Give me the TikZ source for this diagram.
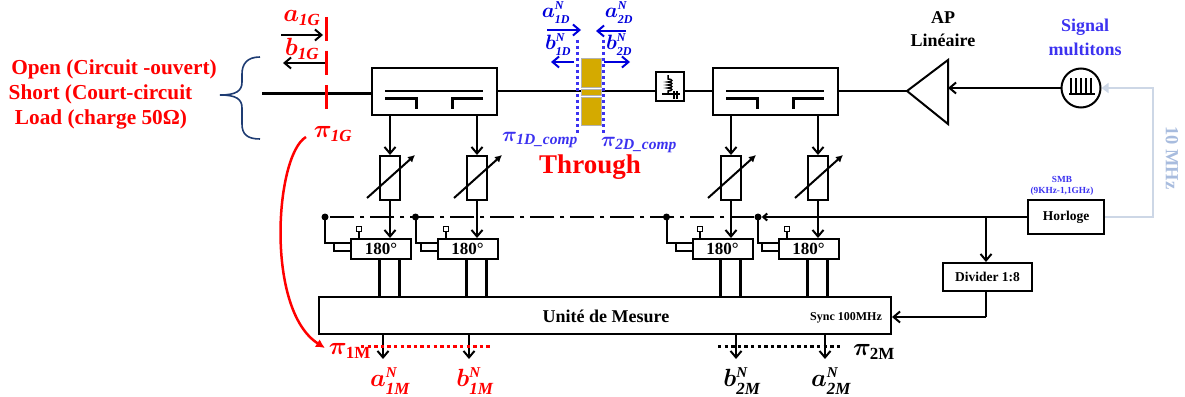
\documentclass[tikz,border=0pt]{standalone}
\usepackage{amsmath,amssymb}
\usepackage{xcolor}
\usepackage{fontspec}
\setmainfont{Liberation Serif}
\usetikzlibrary{arrows.meta}

\definecolor{portred}{RGB}{255,0,0}
\definecolor{sigblue}{RGB}{60,50,240}
\definecolor{waveblue}{RGB}{0,0,220}
\definecolor{clkgrey}{RGB}{205,215,230}
\definecolor{clktext}{RGB}{168,188,222}
\definecolor{bracecol}{RGB}{30,60,115}
\definecolor{thrugold}{RGB}{212,170,0}

% subscript and superscript set as text, larger than math would set them
\newcommand{\subit}[2]{\mbox{\fontsize{#1}{#1}\selectfont\bfseries\itshape #2}}
\newcommand{\subup}[2]{\mbox{\fontsize{#1}{#1}\selectfont\bfseries #2}}

\tikzset{
	wire/.style={line width=2pt},
	heavy/.style={line width=3pt},
	sigarrow/.style={wire,-{Straight Barb[length=6.5pt,width=11pt]}},
	block/.style={draw,line width=2pt,fill=white,inner sep=0pt},
	dot/.style={circle,fill=black,inner sep=0pt,minimum size=7pt},
	lab/.style={inner sep=0pt},
	bigred/.style={lab,text=portred,font=\fontsize{21.3}{22}\selectfont\bfseries},
	biglab/.style={lab,font=\fontsize{18}{18}\selectfont\bfseries},
	sigtxt/.style={lab,text=sigblue,font=\fontsize{18}{18}\selectfont\bfseries},
	smbtxt/.style={lab,text=sigblue,font=\fontsize{9.3}{10}\selectfont\bfseries},
	boxtxt/.style={font=\fontsize{13.5}{14}\selectfont\bfseries},
	genlab/.style={lab,text=portred,font=\fontsize{25}{25}\selectfont\boldmath},
	dutlab/.style={lab,text=waveblue,font=\fontsize{20}{20}\selectfont\boldmath},
	pidut/.style={lab,text=sigblue,font=\fontsize{21}{21}\selectfont\boldmath},
	meslab/.style={lab,font=\fontsize{25}{25}\selectfont\boldmath},
}

\begin{document}
\begin{tikzpicture}[x=1pt,y=-1pt]
	\useasboundingbox (0,0) rectangle (1185,396);

	% calibration loads
	\node[bigred] (open) at (114,69) {Open (Circuit -ouvert)};
	\node[bigred] (short) at (100.5,94) {Short (Court-circuit};
	\node[bigred] (load) at (101,119) {Load (charge 50Ω)};
	\draw[bracecol,line width=1.6pt] (260,57) .. controls (247,57) and (242,64) .. (242,74) -- (242,82)
		.. controls (242,91) and (236,95) .. (220,95) .. controls (236,95) and (242,99) .. (242,108) -- (242,124)
		.. controls (242,134) and (247,139) .. (260,139);

	% main line
	\coordinate (in) at (262,93);
	\node[block,minimum width=125pt,minimum height=47pt] (cpl1) at (434.5,91.5) {};
	\node[block,minimum width=125pt,minimum height=47pt] (cpl2) at (775.5,91.5) {};
	\node[block,minimum width=28pt,minimum height=29pt] (tee) at (669.5,86.5) {};
	\draw[heavy] (in) -- (cpl1.west |- in);
	\draw[wire] (cpl1.east |- 0,91) -- (tee.west |- 0,91);
	\draw[wire] (tee.east |- 0,91) -- (cpl2.west |- 0,91);

	% coupler insides
	\foreach \n/\dx in {1/0,2/341}{
		\draw[wire] (385+\dx,91) -- (483+\dx,91);
		\draw[heavy] (385+\dx,98) -- (416+\dx,98) -- (416+\dx,109);
		\draw[heavy] (483+\dx,98) -- (452+\dx,98) -- (452+\dx,109);
	}

	% bias tee
	\draw[line width=1.5pt] (668,75) -- (668,79) .. controls (673,79) and (673,82) .. (668,82)
		.. controls (673,82) and (673,85) .. (668,85) .. controls (673,85) and (673,88) .. (668,88)
		.. controls (673,88) and (673,91) .. (668,91) -- (668,94);
	\draw[line width=1.8pt] (662,94) -- (680,94);
	\draw[line width=1.5pt] (674,91) -- (674,99) (677,91) -- (677,99);

	% through standard
	\fill[thrugold,draw=black!30] (581,58) rectangle (601,87);
	\fill[thrugold,draw=black!30] (581,89) rectangle (601,95);
	\fill[thrugold,draw=black!30] (581,97) rectangle (601,125);
	\draw[sigblue,line width=3pt,dash pattern=on 3pt off 3pt] (577.5,40) -- (577.5,133);
	\draw[sigblue,line width=3pt,dash pattern=on 3pt off 3pt] (603,40) -- (603,133);
	\node[lab,text=portred,font=\fontsize{27}{27}\selectfont\bfseries] (thru) at (590,167) {Through};

	% planes
	\draw[portred,heavy] (326,17) -- (326,41) (326,51) -- (326,75) (326,85) -- (326,109);
	\coordinate (a1s) at (281,35);
	\coordinate (a1e) at (323,35);
	\coordinate (b1s) at (325,63);
	\coordinate (b1e) at (283,63);
	\draw[sigarrow] (a1s) -- (a1e);
	\draw[sigarrow] (b1s) -- (b1e);
	\node[genlab] (a1g) at (302,18) {$a_{\subit{17}{1G}}$};
	\node[genlab] (b1g) at (302,49) {$b_{\subit{17}{1G}}$};
	\node[genlab] (pi1g) at (333,134) {$\pi_{\subit{17}{1G}}$};

	\foreach \n/\xs/\xe/\y in {a1/547/581/30,a2/626/596/31,b1/574/551/62,b2/604/630/62}{
		\coordinate (\n s) at (\xs,\y);
		\coordinate (\n e) at (\xe,\y);
		\draw[waveblue,sigarrow] (\n s) -- (\n e);
	}
	\node[dutlab] (a1d) at (556,13) {$a_{\subit{12}{1D}}^{\subit{12}{N}}$};
	\node[dutlab] (a2d) at (619,13) {$a_{\subit{12}{2D}}^{\subit{12}{N}}$};
	\node[dutlab] (b1d) at (558,45) {$b_{\subit{12}{1D}}^{\subit{12}{N}}$};
	\node[dutlab] (b2d) at (619,45) {$b_{\subit{12}{2D}}^{\subit{12}{N}}$};
	\node[pidut] (pi1d) at (540,140) {$\pi_{\subit{15.5}{1D\_comp}}$};
	\node[pidut] (pi2d) at (639,145) {$\pi_{\subit{15.5}{2D\_comp}}$};

	% source and amplifier
	\coordinate (amptip) at (907,91);
	\coordinate (amptop) at (948,60);
	\coordinate (ampbot) at (948,124);
	\coordinate (ampin) at (948,88);
	\draw[line width=2pt,fill=white] (amptip) -- (amptop) -- (ampbot) -- cycle;
	\draw[wire] (cpl2.east |- amptip) -- (amptip);
	\node[biglab] (ap) at (943,18) {AP};
	\node[biglab] (lin) at (943,40) {Linéaire};
	\node[circle,draw,line width=2pt,minimum size=39pt,inner sep=0pt] (src) at (1081,88) {};
	\draw[sigarrow] (src) -- (ampin);
	\foreach \x in {1071,1076,1081,1086,1091}{
		\draw[line width=1.2pt] (\x,78) -- (\x,93);
	}
	\draw[line width=1.4pt] (1069,94) -- (1095,94);
	\node[sigtxt] (sig) at (1085,27) {Signal};
	\node[sigtxt] (mul) at (1085,49) {multitons};

	% clock
	\node[block,boxtxt,minimum width=76pt,minimum height=34pt] (clk) at (1066,217) {Horloge};
	\node[smbtxt] (smb) at (1062,179) {SMB};
	\node[smbtxt] (smbf) at (1062,191) {(9KHz-1,1GHz)};
	\coordinate (ref) at (1153,217);
	\coordinate (refup) at (1153,88);
	\draw[clkgrey,line width=2.5pt,-{Triangle[length=7pt,width=10pt]}] (clk.east) -- (ref) -- (refup) -- (src.east);
	\node[lab,text=clktext,rotate=-90,font=\fontsize{18.5}{19}\selectfont\bfseries] (tenm) at (1172,158) {10 MHz};
	\node[block,boxtxt,minimum width=89pt,minimum height=28pt] (div) at (987.5,277) {Divider 1:8};
	\coordinate (clksplit) at (986,217);
	\coordinate (divout) at (986,317);
	\draw[sigarrow] (clksplit) -- (clksplit |- div.north);
	\node[dot] (d4) at (758,217) {};
	\node[dot] (d3) at (666.5,217) {};
	\node[dot] (d2) at (415.5,217) {};
	\node[dot] (d1) at (325,217) {};
	\draw[wire,-{Straight Barb[length=4pt,width=7pt]}] (clk.west) -- (d4);
	\draw[wire,dash pattern=on 24pt off 6pt on 4pt off 6pt] (d4) -- (d1);

	% measurement unit
	\node[block,minimum width=572pt,minimum height=37pt] (mes) at (605,315.5) {};
	\node[biglab] (mestxt) at (606,316) {Unité de Mesure};
	\node[lab,font=\fontsize{12}{12}\selectfont\bfseries] (sync) at (846,318) {Sync 100MHz};
	\draw[wire] (div.south -| divout) -- (divout);
	\draw[sigarrow] (divout) -- (mes.east |- divout);

	% the four receiver channels
	\foreach \n/\xc/\xa/\xm/\xs/\xl in {1/381/390/379/359/325,2/467.5/477/466/446/415.5,3/722.5/731/720/700/666.5,4/808.5/818/807/787/758}{
		\node[block,minimum width=20pt,minimum height=44pt] (att\n) at (\xa,178) {};
		\node[block,minimum width=60pt,minimum height=20pt,font=\fontsize{17}{17}\selectfont\bfseries] (mix\n) at (\xc,249) {180°};
		\node[draw,fill=white,line width=1.3pt,inner sep=0pt,minimum size=5.5pt] (lo\n) at (\xs,229) {};
		\coordinate (top\n) at (\xa,115);
		\coordinate (s\n) at (\xa-23,198);
		\coordinate (e\n) at (\xa+25,155);
		\coordinate (bend\n) at (\xl,243);
		\coordinate (loop\n) at (\xc-47,243);
		\draw[sigarrow] (top\n) -- (att\n.north);
		\draw[wire,-{Latex[length=7pt,width=7.5pt]}] (s\n) -- (e\n);
		\draw[sigarrow] (att\n.south) -- (att\n.south |- mix\n.north);
		\draw[wire] (lo\n) -- (lo\n |- mix\n.north);
		\draw[wire] (\xl,217) -- (bend\n) -- (bend\n -| mix\n.west);
		\draw[wire] (loop\n) -- ++(0,8) -- ++(17,0);
		\draw[heavy] (\xm,259) -- (\xm,297);
		\draw[heavy] (\xm+20,259) -- (\xm+20,297);
	}

	% output waves
	\foreach \n/\x/\y in {a1m/383/359,b1m/469/359,b2m/736/359,a2m/825/359}{
		\coordinate (\n) at (\x,\y);
		\draw[sigarrow] (mes.south -| \n) -- (\n);
	}
	\draw[portred,line width=3pt,dash pattern=on 3.3pt off 3.3pt] (361,346) -- (490,346);
	\draw[black,line width=3pt,dash pattern=on 3.3pt off 3.3pt] (718,346) -- (843,346);
	\node[meslab,text=portred] (pi1m) at (350,351) {$\pi_{\subup{17}{1M}}$};
	\node[meslab] (pi2m) at (874,352) {$\pi_{\subup{17}{2M}}$};
	\node[meslab,text=portred] (ta1m) at (390,381) {$a_{\subit{17}{1M}}^{\subit{15}{N}}$};
	\node[meslab,text=portred] (tb1m) at (475,381) {$b_{\subit{17}{1M}}^{\subit{15}{N}}$};
	\node[meslab] (tb2m) at (742,381) {$b_{\subit{17}{2M}}^{\subit{15}{N}}$};
	\node[meslab] (ta2m) at (831,381) {$a_{\subit{17}{2M}}^{\subit{15}{N}}$};

	% red link between the reference planes
	\coordinate (curvestart) at (306,137);
	\coordinate (curveend) at (325,348);
	\draw[portred,line width=2.5pt,-{Latex[length=9pt,width=9pt]}] (curvestart) .. controls (275,155) and (265,310) .. (curveend);
\end{tikzpicture}
\end{document}
